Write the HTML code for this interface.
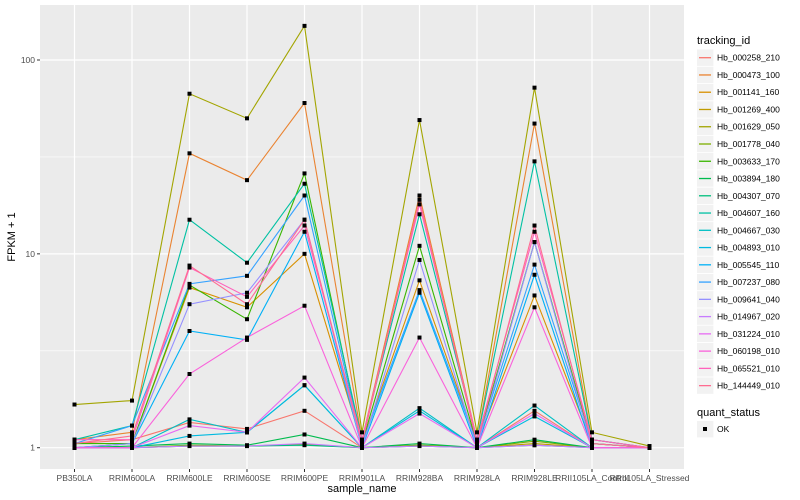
<!DOCTYPE html>
<html><head><meta charset="utf-8"><style>
body{margin:0;background:#fff;}
svg{display:block;font-family:"Liberation Sans",sans-serif;}
</style></head><body>
<svg id="chart" width="800" height="500"></svg>
<script>
const categories=["PB350LA","RRIM600LA","RRIM600LE","RRIM600SE","RRIM600PE","RRIM901LA","RRIM928BA","RRIM928LA","RRIM928LE","RRII105LA_Control","RRII105LA_Stressed"];
const seriesNames=["Hb_000258_210","Hb_000473_100","Hb_001141_160","Hb_001269_400","Hb_001629_050","Hb_001778_040","Hb_003633_170","Hb_003894_180","Hb_004307_070","Hb_004607_160","Hb_004667_030","Hb_004893_010","Hb_005545_110","Hb_007237_080","Hb_009641_040","Hb_014967_020","Hb_031224_010","Hb_060198_010","Hb_065521_010","Hb_144449_010"];
const seriesColors=["#F8766D","#EA8331","#D89000","#C09B00","#A3A500","#7CAE00","#39B600","#00BB4E","#00BF7D","#00C1A3","#00BFC4","#00BAE0","#00B0F6","#35A2FF","#9590FF","#C77CFF","#E76BF3","#FA62DB","#FF62BC","#FF6C91"];
const s01=[1.05,1.1,1.35,1.25,1.55,1.0,1.02,1.0,1.55,1.0,1.0];
const s02=[1.1,1.2,33,24,60,1.1,20,1.1,47,1.1,1.0];
const s03=[1.0,1.05,6.7,5.3,10,1.05,7.3,1.05,6.1,1.05,1.0];
const s04=[1.0,1.0,1.02,1.02,1.04,1.0,1.03,1.0,1.05,1.0,1.0];
const s05=[1.67,1.75,67,50,150,1.2,49,1.2,72,1.2,1.02];
const s06=[1.0,1.0,1.03,1.02,1.04,1.0,1.03,1.0,1.08,1.0,1.0];
const s07=[1.05,1.05,6.9,4.6,26,1.05,11,1.05,11.5,1.05,1.0];
const s08=[1.0,1.02,1.05,1.03,1.17,1.0,1.05,1.0,1.1,1.0,1.0];
const s09=[1.0,1.0,1.02,1.02,1.03,1.0,1.02,1.0,1.03,1.0,1.0];
const s10=[1.1,1.3,15,9,23,1.1,16,1.1,30,1.1,1.0];
const s11=[1.0,1.0,1.4,1.2,2.1,1.0,1.6,1.0,1.65,1.0,1.0];
const s12=[1.0,1.0,1.15,1.2,2.1,1.0,1.55,1.0,1.45,1.0,1.0];
const s13=[1.0,1.05,4.0,3.6,13,1.0,6.3,1.0,7.8,1.0,1.0];
const s14=[1.05,1.3,7.0,7.7,20,1.05,6.5,1.05,8.8,1.05,1.0];
const s15=[1.0,1.05,5.5,6.3,15,1.0,9.3,1.0,11.5,1.0,1.0];
const s16=[1.0,1.0,1.02,1.02,1.05,1.0,1.02,1.0,1.03,1.0,1.0];
const s17=[1.0,1.0,1.3,1.2,2.3,1.0,1.5,1.0,1.5,1.0,1.0];
const s18=[1.0,1.0,2.4,3.7,5.4,1.0,3.7,1.0,5.3,1.0,1.0];
const s19=[1.1,1.1,8.5,6.0,14,1.1,18,1.1,13,1.1,1.0];
const s20=[1.05,1.15,8.7,5.5,15,1.05,19,1.05,14,1.05,1.0];
const seriesValues=[s01,s02,s03,s04,s05,s06,s07,s08,s09,s10,s11,s12,s13,s14,s15,s16,s17,s18,s19,s20];
const yTicks=[1,10,100];
const yMinor=[3.1623,31.623];

const NS="http://www.w3.org/2000/svg";
const svg=document.getElementById("chart");
const P={l:40,r:684,t:5,b:469};
const x0=74.5,dx=57.5;
function xs(i){return x0+i*dx;}
function ys(v){return 447.7-Math.log10(v)*193.85;}
function mk(tag,attrs,parent){const e=document.createElementNS(NS,tag);for(const k in attrs)e.setAttribute(k,attrs[k]);(parent||svg).appendChild(e);return e;}

const bg=mk("rect",{x:P.l,y:P.t,width:P.r-P.l,height:P.b-P.t,fill:"#EBEBEB"});


yMinor.forEach(v=>{const l=mk("line",{x1:P.l,x2:P.r,y1:ys(v),y2:ys(v),stroke:"#fff","stroke-width":0.6});

});
yTicks.forEach(v=>{const l=mk("line",{x1:P.l,x2:P.r,y1:ys(v),y2:ys(v),stroke:"#fff","stroke-width":1.2});


const t=mk("line",{x1:P.l-3,x2:P.l,y1:ys(v),y2:ys(v),stroke:"#333","stroke-width":1});


const tx=mk("text",{x:P.l-5,y:ys(v)+3,"text-anchor":"end","font-size":"8.5",fill:"#4d4d4d"});
tx.textContent=v;

});
categories.forEach((c,i)=>{const l=mk("line",{x1:xs(i),x2:xs(i),y1:P.t,y2:P.b,stroke:"#fff","stroke-width":1.2});


const t=mk("line",{x1:xs(i),x2:xs(i),y1:P.b,y2:P.b+3,stroke:"#333","stroke-width":1});


const tx=mk("text",{x:xs(i),y:481,"text-anchor":"middle","font-size":"8.5",fill:"#4d4d4d"});
tx.textContent=c;

});

seriesValues.forEach((vals,s)=>{const pts=vals.map((v,i)=>xs(i)+","+ys(v)).join(" ");
const pl=mk("polyline",{points:pts,fill:"none",stroke:seriesColors[s],"stroke-width":1.1});

});
seriesValues.forEach((vals,s)=>{vals.forEach((v,i)=>{const r=mk("rect",{x:xs(i)-2,y:ys(v)-2,width:4,height:4,fill:"#000"});

});});

const xt=mk("text",{x:362,y:492,"text-anchor":"middle","font-size":"11",fill:"#000"});
xt.textContent="sample_name";


const yt=mk("text",{x:15,y:237,"text-anchor":"middle","font-size":"11",fill:"#000",transform:"rotate(-90 15 237)"});
yt.textContent="FPKM + 1";



const lt=mk("text",{x:697,y:44,"font-size":"11",fill:"#000"});
lt.textContent="tracking_id";


seriesNames.forEach((n,s)=>{const cy=57.7+s*17.26;
const g=mk("g",{});


mk("rect",{x:697,y:cy-8.2,width:16.4,height:16.4,fill:"#F2F2F2"},g);
mk("line",{x1:699,x2:711,y1:cy,y2:cy,stroke:seriesColors[s],"stroke-width":1.3},g);
const tx=mk("text",{x:717,y:cy+3,"font-size":"8.5",fill:"#000"},g);
tx.textContent=n;});
const qt=mk("text",{x:697,y:416,"font-size":"11",fill:"#000"});
qt.textContent="quant_status";


const g2=mk("g",{});


mk("rect",{x:697,y:421,width:16.4,height:16.4,fill:"#F2F2F2"},g2);
mk("rect",{x:703,y:427,width:4,height:4,fill:"#000"},g2);
const okt=mk("text",{x:717,y:432,"font-size":"8.5",fill:"#000"},g2);
okt.textContent="OK";
</script>
</body></html>
